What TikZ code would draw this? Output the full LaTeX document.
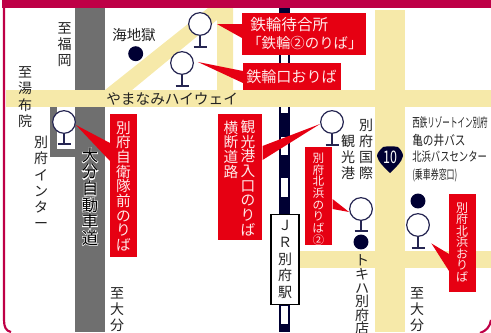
\documentclass[tikz,border=0pt]{standalone}
\usepackage{fontspec}
\usepackage{graphicx}
\setmainfont{Noto Sans CJK JP}
\newfontfamily\halofont[FakeBold=7]{Noto Sans CJK JP}
\usetikzlibrary{calc}
\definecolor{crimson}{HTML}{BE0046}
\definecolor{signred}{HTML}{E60012}
\definecolor{roadcream}{HTML}{F6E9A9}
\definecolor{roadgrey}{HTML}{6F6F6F}
\definecolor{navy}{HTML}{000033}
\definecolor{ink}{HTML}{222222}
\definecolor{softwhite}{HTML}{FFE9E9}
\newcommand{\hl}[1]{\rlap{\textcolor{white}{\halofont #1}}#1}
\newcommand{\markerpin}[4]{% name, x, y, stem end
  \draw[markerline] (#2,#3) -- (#2,#4) (#2-6.5,#4) -- (#2+6.5,#4);
  \node[markerhead] (#1) at (#2,#3) {};
}
\tikzset{
  road/.style={fill=roadcream},
  markerline/.style={draw=navy!85!white,line width=.85pt},
  markerhead/.style={circle,draw=navy!85!white,fill=white,line width=.9pt,minimum size=17pt,inner sep=0pt},
  spot/.style={circle,fill=navy,minimum size=11.2pt,inner sep=0pt},
  signbox/.style={fill=signred,inner sep=0pt,anchor=north west},
  pointer/.style={fill=signred},
  label/.style={text=ink,align=center,inner sep=0pt,font=\fontsize{10.5}{#1}\selectfont},
  label/.default=12.2pt,
  signtext/.style={text=softwhite,align=center,inner sep=0pt,font=\fontsize{#1}{#1}\selectfont},
}
\begin{document}
\begin{tikzpicture}[x=.75pt,y=-.75pt]
\useasboundingbox (0,0) rectangle (491,332);
\clip (0,0) rectangle (491,332);
% roads
\fill[road] (6,90) rectangle (491,107);
\fill[road] (105,90) -- (208,8) -- (233,8) -- (233,90) -- (217,90) -- (217,20) -- (132,90) -- cycle;
\fill[road] (375,10) rectangle (405,332);
\fill[road] (298,251) rectangle (491,268);
% expressway
\fill[roadgrey] (75,8) rectangle (105,90);
\fill[roadgrey] (75,107) rectangle (105,332);
\fill[roadgrey] (50,107) rectangle (75,157);
\fill[white] (57,107) rectangle (75,149);
% railway
\fill[navy] (279,8) rectangle (290,90);
\fill[navy] (279,107) rectangle (290,332);
\foreach \ya/\yb in {14/31,55/72,107/113,137/155,178/197,306/324}
  \fill[white] (281,\ya) rectangle (288,\yb);
% frame
\fill[crimson] (2,0) rectangle (491,8);
\draw[crimson,line width=1.6pt] (4,8) -- (4,320) .. controls (4,327) and (6,331) .. (11,332);
\draw[crimson,line width=1.6pt] (491,320) .. controls (490,327) and (486,331) .. (480,333);
% markers
\markerpin{m1}{200}{24}{47}
\markerpin{m2}{182}{63}{86}
\markerpin{m3}{64}{122}{144}
\markerpin{m4}{332}{122}{145}
\markerpin{m5}{361}{209}{231}
\markerpin{m6}{418}{225}{248}
\node[spot] (s1) at (135.7,53.7) {};
\node[spot] (s2) at (361,242) {};
\node[spot] (s3) at (418,201) {};
% route shield
\fill[navy] (383,147) .. controls (388,146) and (393,146) .. (398,147) .. controls (401,150) and (403,153) .. (403,156) .. controls (402,162) and (395,168) .. (390,173) .. controls (385,168) and (378,162) .. (377,156) .. controls (377,153) and (380,150) .. (383,147) -- cycle;
\node[inner sep=0pt,text=white,font=\fontsize{13}{14}\selectfont] (r10) at (390,157) {\scalebox{.72}[1]{10}};
% sign boxes
\node[signbox,minimum width=93pt,minimum height=31.5pt] (b1) at (242,13) {};
\node[signbox,minimum width=73.5pt,minimum height=20.25pt] (b2) at (243,63) {};
\node[signbox,minimum width=20.25pt,minimum height=107.25pt] (b3) at (110,114) {};
\node[signbox,minimum width=33pt,minimum height=94.5pt] (b4) at (218,114) {};
\node[signbox,minimum width=20.25pt,minimum height=73.5pt] (b5) at (305,147) {};
\node[signbox,minimum width=20.25pt,minimum height=73.5pt] (b6) at (449,194) {};
% pointers
\fill[pointer] ($(m1.east)+(5,0)$) -- ($(b1.north west)+(0,11)$) -- ($(b1.north west)+(0,25)$) -- cycle;
\fill[pointer] ($(m2.east)+(4,-1)$) -- ($(b2.north west)+(0,8)$) -- ($(b2.north west)+(0,20)$) -- cycle;
\fill[pointer] ($(m3.east)+(0,3)$) -- ($(b3.north west)+(0,29)$) -- ($(b3.north west)+(0,47)$) -- cycle;
\fill[pointer] ($(m4.west)+(0,2)$) -- ($(b4.north east)+(0,32)$) -- ($(b4.north east)+(0,46)$) -- cycle;
\fill[pointer] ($(m5.west)+(0,3)$) -- ($(b5.north east)+(0,52)$) -- ($(b5.north east)+(0,62)$) -- cycle;
\fill[pointer] ($(m6.south east)+(5,10)$) -- ($(b6.north west)+(0,60)$) -- ($(b6.north west)+(0,77)$) -- cycle;
% sign texts
\node[signtext=11.7pt,align=left,anchor=west] (t1a) at (250,25) {鉄輪待合所};
\node[signtext=10.8pt,anchor=west] (t1b) at (247,43) {「鉄輪②のりば」};
\node[signtext=11.3pt,anchor=west] (t2) at (246,77) {鉄輪口おりば};
\node[signtext=11pt] (t3) at (123.5,186) {別\\府\\自\\衛\\隊\\前\\の\\り\\ば};
\node[signtext=11pt] (t4a) at (248,178) {観\\光\\港\\入\\口\\の\\り\\ば};
\node[signtext=11pt] (t4b) at (231,149.5) {横\\断\\道\\路};
\node[signtext=8.7pt,font=\fontsize{8.7}{8.75}\selectfont] (t5) at (318.5,199) {別\\府\\北\\浜\\の\\り\\ば\\②};
\node[signtext=8.7pt,font=\fontsize{9}{8.6}\selectfont] (t6) at (462,242) {別\\府\\北\\浜\\お\\り\\ば};
% place labels
\node[label] (l1) at (64.5,44.5) {至\\福\\岡};
\node[label=12.4pt] (l2) at (25,97) {至\\湯\\布\\院};
\node[label,font=\fontsize{10.8}{12}\selectfont] (l3) at (134,35) {海地獄};
\node[label,anchor=west,font=\fontsize{11}{12}\selectfont] (l4) at (106,99) {やまなみハイウェイ};
\node[label] (l5) at (41,182.5) {別\\府\\イ\\ン\\タ\\ー};
\node[label,text=black,font=\fontsize{12.3}{12.4}\selectfont] (l6) at (90,196.5) {\hl{大}\\\hl{分}\\\hl{自}\\\hl{動}\\\hl{車}\\\hl{道}};
\node[label] (l7) at (117,309.5) {至\\大\\分};
\node[label] (l8) at (417,309.5) {至\\大\\分};
\node[label=12.1pt] (l9) at (366,149.5) {別\\府\\国\\際};
\node[label=12.1pt] (l10) at (348,157.5) {観\\光\\港};
\node[label=10.2pt] (l11) at (362,295) {ト\\キ\\ハ\\別\\府\\店};
\node[anchor=west,text=ink,inner sep=0pt,font=\fontsize{9.6}{12}\selectfont] (h1) at (412,123) {\scalebox{.59}[1]{西鉄リゾートイン別府}};
\node[anchor=west,text=ink,inner sep=0pt,font=\fontsize{10}{12}\selectfont] (h2) at (412,140) {\scalebox{.8}[1]{亀の井バス}};
\node[anchor=west,text=ink,inner sep=0pt,font=\fontsize{9.6}{12}\selectfont] (h3) at (412,157) {\scalebox{.73}[1]{北浜バスセンター}};
\node[anchor=west,text=ink,inner sep=0pt,font=\fontsize{9.6}{12}\selectfont] (h4) at (412,175) {\scalebox{.62}[1]{(乗車券窓口)}};
% station
\node[draw=black,line width=.9pt,fill=white,text=ink,align=center,inner sep=0pt,minimum width=21pt,minimum height=68pt,font=\fontsize{10.5}{12.7}\selectfont] (jr) at (285,259.5) {Ｊ\\Ｒ\\別\\府\\駅};
\end{tikzpicture}
\end{document}
